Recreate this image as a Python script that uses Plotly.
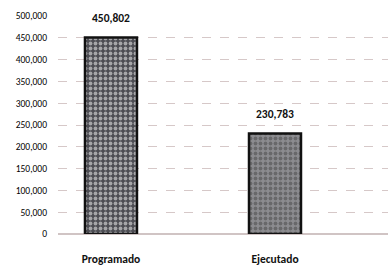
import plotly.graph_objects as go

categories = ["Programado", "Ejecutado"]
values = [450802, 230783]
value_labels = ["450,802", "230,783"]
tick_vals = [0, 50000, 100000, 150000, 200000, 250000, 300000, 350000, 400000, 450000, 500000]
tick_text = ["0", "50,000", "100,000", "150,000", "200,000", "250,000", "300,000",
             "350,000", "400,000", "450,000", "500,000"]
bar_colors = ["#4c4c52", "#8c8c90"]
pattern_colors = ["#8e8e98", "#bcbcc0"]

FONT = "Carlito, DejaVu Sans Condensed, Liberation Sans Narrow, Roboto Condensed, Roboto, sans-serif"

fig = go.Figure()
fig.add_trace(go.Bar(
    x=[0, 1], y=values,
    width=0.317,
    marker=dict(color=bar_colors, line=dict(color="#111111", width=2.5),
                pattern=dict(shape=".", fgcolor=pattern_colors, size=5, solidity=0.45)),
    hoverinfo="skip",
))
for xi, v, lab in zip([0, 1], values, value_labels):
    fig.add_annotation(x=xi, y=v, text="<b>" + lab + "</b>", showarrow=False,
                       yanchor="bottom", yshift=10,
                       font=dict(family=FONT, size=11.5, color="#111111"))
fig.update_layout(
    width=388, height=268,
    margin=dict(l=58, r=0, t=16, b=34),
    paper_bgcolor="white", plot_bgcolor="white",
    showlegend=False,
    font=dict(family=FONT, color="#111111"),
    xaxis=dict(range=[-0.323, 1.689], tickvals=[0, 1],
               ticktext=["<b>" + c + "</b>" for c in categories],
               tickfont=dict(size=11.5, color="#111111", family=FONT),
               showgrid=False, zeroline=False, showline=False, ticks="",
               ticklabelstandoff=16, automargin=False),
    yaxis=dict(range=[0, 500000], tickvals=tick_vals, ticktext=tick_text,
               tickfont=dict(size=9.5, color="#000000", family=FONT),
               showgrid=True, gridcolor="#d6c8c8", griddash="dash", gridwidth=1,
               zeroline=True, zerolinecolor="#d0c4c4", showline=False, ticks="",
               ticklabelstandoff=10, automargin=False),
)
fig.write_html("out.html", config={"displayModeBar": False},
               post_script="document.body.style.margin='0';document.body.style.overflow='hidden';")
